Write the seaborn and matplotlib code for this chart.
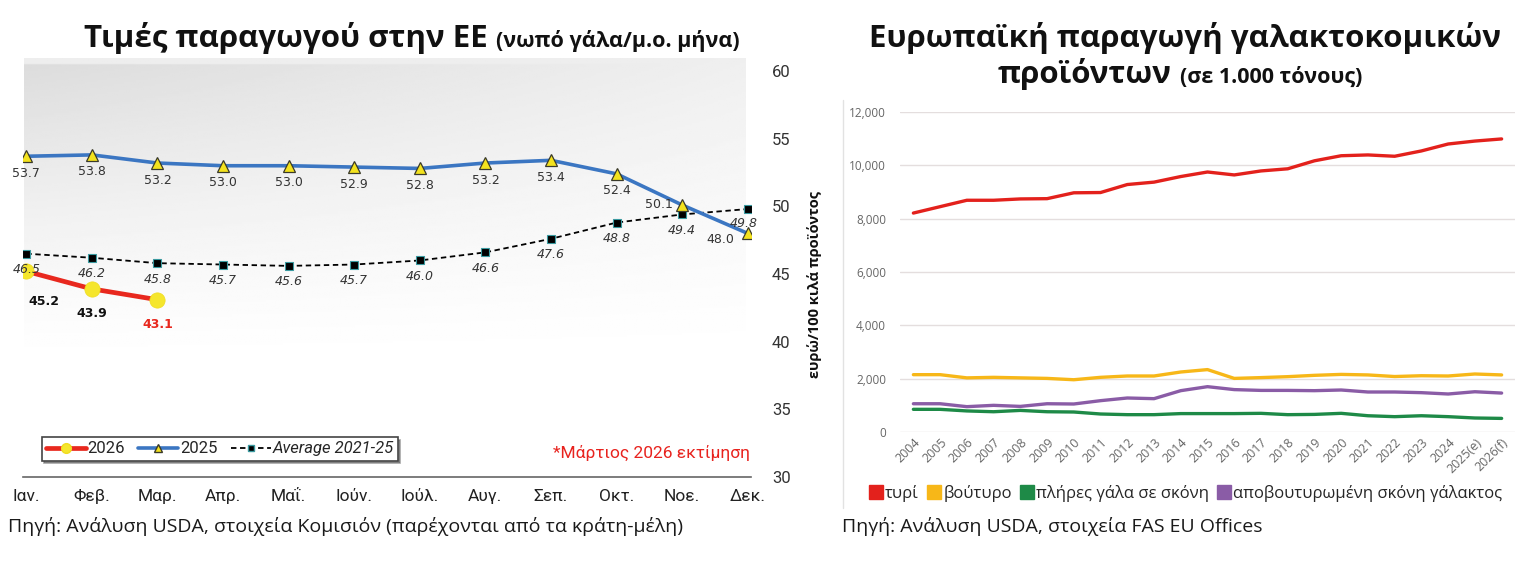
import numpy as np
import pandas as pd
import matplotlib
matplotlib.use("Agg")
import matplotlib.pyplot as plt
import seaborn as sns
from matplotlib.lines import Line2D

# ---------------- data ----------------
months = ["Ιαν.", "Φεβ.", "Μαρ.", "Απρ.", "Μαΐ.", "Ιούν.", "Ιούλ.", "Αυγ.", "Σεπ.", "Οκτ.", "Νοε.", "Δεκ."]
price_2025 = [53.7, 53.8, 53.2, 53.0, 53.0, 52.9, 52.8, 53.2, 53.4, 52.4, 50.1, 48.0]
price_avg = [46.5, 46.2, 45.8, 45.7, 45.6, 45.7, 46.0, 46.6, 47.6, 48.8, 49.4, 49.8]
price_2026 = [45.2, 43.9, 43.1]

years = ["2004", "2005", "2006", "2007", "2008", "2009", "2010", "2011", "2012", "2013",
         "2014", "2015", "2016", "2017", "2018", "2019", "2020", "2021", "2022", "2023",
         "2024", "2025(e)", "2026(f)"]
cheese = [8210, 8450, 8690, 8690, 8740, 8750, 8970, 8980, 9280, 9370, 9580, 9750, 9640,
          9790, 9870, 10170, 10360, 10390, 10340, 10540, 10800, 10910, 10990]
butter = [2150, 2150, 2030, 2050, 2030, 2010, 1960, 2050, 2100, 2100, 2250, 2340, 2010,
          2040, 2075, 2125, 2160, 2140, 2080, 2110, 2100, 2175, 2140]
wmp = [850, 850, 790, 760, 810, 760, 750, 675, 650, 650, 690, 690, 690, 700, 650, 660,
       700, 610, 575, 610, 575, 525, 510]
smp = [1060, 1060, 950, 1000, 960, 1060, 1050, 1175, 1275, 1250, 1550, 1700, 1590, 1560,
       1560, 1550, 1575, 1500, 1500, 1475, 1425, 1510, 1460]

series_names = ["τυρί", "βούτυρο", "πλήρες γάλα σε σκόνη", "αποβουτυρωμένη σκόνη γάλακτος"]
series_colors = ["#e3211c", "#f7b718", "#1e8a47", "#8a5ca6"]

# ---------------- style ----------------
sns.set_theme(style="white")
plt.rcParams["font.family"] = ["Open Sans", "DejaVu Sans"]
COND = ["Roboto", "Open Sans", "DejaVu Sans"]
NUM = ["DejaVu Sans"]

W, H = 1529, 577
fig = plt.figure(figsize=(W / 100, H / 100), dpi=100)
fig.patch.set_facecolor("white")


def fx(px):
    return px / W


def fy(py):
    return 1 - py / H


# ---------------- left chart ----------------
# gradient background panel
bg = fig.add_axes([fx(24), fy(470), fx(746 - 24), (470 - 58) / H])
bg.set_axis_off()
ny, nx = 200, 300
yy, xx = np.mgrid[0:1:ny * 1j, 0:1:nx * 1j]
fade = np.clip(1 - yy / 0.75, 0, 1) ** 1.3
grad = 1 - 0.14 * fade * (1 - 0.55 * xx)
grad[:3, :] = np.maximum(grad[:3, :], 0.93)
bg.imshow(grad, cmap="gray", vmin=0, vmax=1, aspect="auto", extent=[0, 1, 0, 1])

ax1 = fig.add_axes([fx(23), fy(477), fx(751 - 23), (477 - 71) / H])
ax1.patch.set_alpha(0)

x12 = np.arange(12)
df_left = pd.DataFrame({"m": x12, "p2025": price_2025, "pavg": price_avg})
df_2026 = pd.DataFrame({"m": x12[:3], "p2026": price_2026})

sns.lineplot(data=df_left, x="m", y="pavg", ax=ax1, color="black", lw=1.3,
             linestyle=(0, (3, 2)), marker="s", ms=5.5, mfc="black", mec="#3a9aa0",
             mew=0.8, zorder=3)
sns.lineplot(data=df_left, x="m", y="p2025", ax=ax1, color="#3b76c2", lw=2.6,
             marker="^", ms=9, mfc="#f3e21e", mec="#3a3a2a", mew=0.9, zorder=4)
sns.lineplot(data=df_2026, x="m", y="p2026", ax=ax1, color="#e8281e", lw=3.4,
             marker="o", ms=11, mfc="#f5e62c", mec="#f0dc20", mew=0.5, zorder=5)

ax1.set_xlim(-0.05, 11.05)
ax1.set_ylim(30, 60)
ax1.set_xticks(x12)
ax1.set_xticklabels(months, family=COND, fontsize=12.5, color="#222222")
ax1.set_yticks(np.arange(30, 61, 5))
ax1.yaxis.tick_right()
ax1.tick_params(axis="y", length=0, pad=15, labelsize=12, labelcolor="#333333")
for t in ax1.get_yticklabels():
    t.set_family(COND)
ax1.tick_params(axis="x", direction="inout", length=7, width=1, color="#666666", pad=5)
ax1.set_xlabel("")
ax1.set_ylabel("")
for s in ["top", "left", "right"]:
    ax1.spines[s].set_visible(False)
ax1.spines["bottom"].set_color("#666666")
ax1.spines["bottom"].set_linewidth(1.2)

# data labels
for i, v in enumerate(price_2025):
    off, ha = (0, -17), "center"
    if i == 10:
        off, ha = (-9, 0), "right"
    if i == 11:
        off, ha = (-13, -6), "right"
    ax1.annotate(f"{v:.1f}", (i, v), xytext=off, textcoords="offset pixels",
                 ha=ha, va="center", fontsize=9, color="#333333", family=NUM, zorder=6)
for i, v in enumerate(price_avg):
    off = (0, -16)
    if i == 11:
        off = (-4, -14)
    ax1.annotate(f"{v:.1f}", (i, v), xytext=off, textcoords="offset pixels",
                 ha="center", va="center", fontsize=9, color="#333333", style="italic",
                 family=NUM, zorder=6)
for i, v in enumerate(price_2026):
    off = (18, -30) if i == 0 else (0, -25)
    col = "#e8281e" if i == 2 else "#111111"
    ax1.annotate(f"{v:.1f}", (i, v), xytext=off, textcoords="offset pixels",
                 ha="center", va="center", fontsize=9, color=col, weight="bold",
                 family=NUM, zorder=6)

handles = [
    Line2D([], [], color="#e8281e", lw=3.4, marker="o", ms=7, mfc="#f5e62c", mec="#f0dc20"),
    Line2D([], [], color="#3b76c2", lw=2.6, marker="^", ms=6, mfc="#f3e21e", mec="#3a3a2a"),
    Line2D([], [], color="black", lw=1.3, linestyle=(0, (3, 2)), marker="s", ms=4.5,
           mfc="black", mec="#3a9aa0"),
]
leg = ax1.legend(handles, ["2026", "2025", "Average 2021-25"], ncol=3, loc="lower left",
                 bbox_to_anchor=(0.014, 0.02), frameon=True, fancybox=False, shadow=True,
                 prop={"family": COND, "size": 12}, handlelength=2.4, handletextpad=0.1,
                 columnspacing=0.8, borderpad=0.25)
leg.get_frame().set_edgecolor("#444444")
leg.get_frame().set_linewidth(1.2)
leg.get_texts()[2].set_style("italic")

fig.text(fx(750), fy(453), "*Μάρτιος 2026 εκτίμηση", ha="right", va="center",
         color="#e8231e", fontsize=12.5, family=COND)
fig.text(fx(815), fy(284), "ευρώ/100 κιλά προϊόντος", rotation=90, ha="center", va="center",
         fontsize=10.5, weight="bold", color="#111111")

fig.text(fx(488), fy(47), "Τιμές παραγωγού στην ΕΕ", ha="right", va="baseline",
         fontsize=22.5, weight="bold", color="#111111")
fig.text(fx(496), fy(47), "(νωπό γάλα/μ.ο. μήνα)", ha="left", va="baseline",
         fontsize=15.5, weight="bold", color="#111111")
fig.text(fx(8), fy(527), "Πηγή: Ανάλυση USDA, στοιχεία Κομισιόν (παρέχονται από τα κράτη-μέλη)",
         ha="left", va="center", fontsize=14, color="#1a1a1a")

# ---------------- right chart ----------------
ax2 = fig.add_axes([fx(900), fy(432), fx(1515 - 900), (432 - 112) / H])
ax2.patch.set_alpha(0)
xi = np.arange(len(years))
df_right = pd.DataFrame({"year": np.tile(xi, 4),
                         "value": cheese + butter + wmp + smp,
                         "product": np.repeat(series_names, len(years))})
sns.lineplot(data=df_right, x="year", y="value", hue="product", hue_order=series_names,
             palette=series_colors, ax=ax2, lw=2.4, legend=False, zorder=3)
ax2.set_xlim(-0.5, len(years) - 0.5)
ax2.set_ylim(0, 12000)
ax2.set_yticks(np.arange(0, 12001, 2000))
ax2.set_yticklabels([f"{v:,}" for v in range(0, 12001, 2000)])
ax2.tick_params(axis="y", length=0, pad=10, labelsize=8.5, labelcolor="#666666")
ax2.set_xticks(xi)
ax2.set_xticklabels(years, rotation=45, ha="right", rotation_mode="anchor",
                    fontsize=9, color="#666666")
ax2.tick_params(axis="x", length=0, pad=3)
ax2.grid(axis="y", color="#e4dede", lw=1)
ax2.grid(axis="x", visible=False)
for s in ["top", "left", "right", "bottom"]:
    ax2.spines[s].set_visible(False)
ax2.set_xlabel("")
ax2.set_ylabel("")

fig.add_artist(Line2D([fx(843), fx(843)], [fy(100), fy(508)], color="#e2e2e2", lw=1))

rhandles = [Line2D([], [], color=c, marker="s", ls="none", ms=10) for c in series_colors]
fig.legend(rhandles, series_names, loc="center", bbox_to_anchor=(fx(1185), fy(493)), ncol=4,
           frameon=False, fontsize=12, handletextpad=0.05, columnspacing=0.4,
           handlelength=1.0)

fig.text(fx(1185), fy(47), "Ευρωπαϊκή παραγωγή γαλακτοκομικών", ha="center", va="baseline",
         fontsize=22.5, weight="bold", color="#111111")
fig.text(fx(1172), fy(83), "προϊόντων", ha="right", va="baseline",
         fontsize=22.5, weight="bold", color="#111111")
fig.text(fx(1180), fy(83), "(σε 1.000 τόνους)", ha="left", va="baseline",
         fontsize=15.5, weight="bold", color="#111111")
fig.text(fx(842), fy(527), "Πηγή: Ανάλυση USDA, στοιχεία FAS EU Offices",
         ha="left", va="center", fontsize=14, color="#1a1a1a")

fig.savefig("out.png", dpi=100, facecolor="white")
